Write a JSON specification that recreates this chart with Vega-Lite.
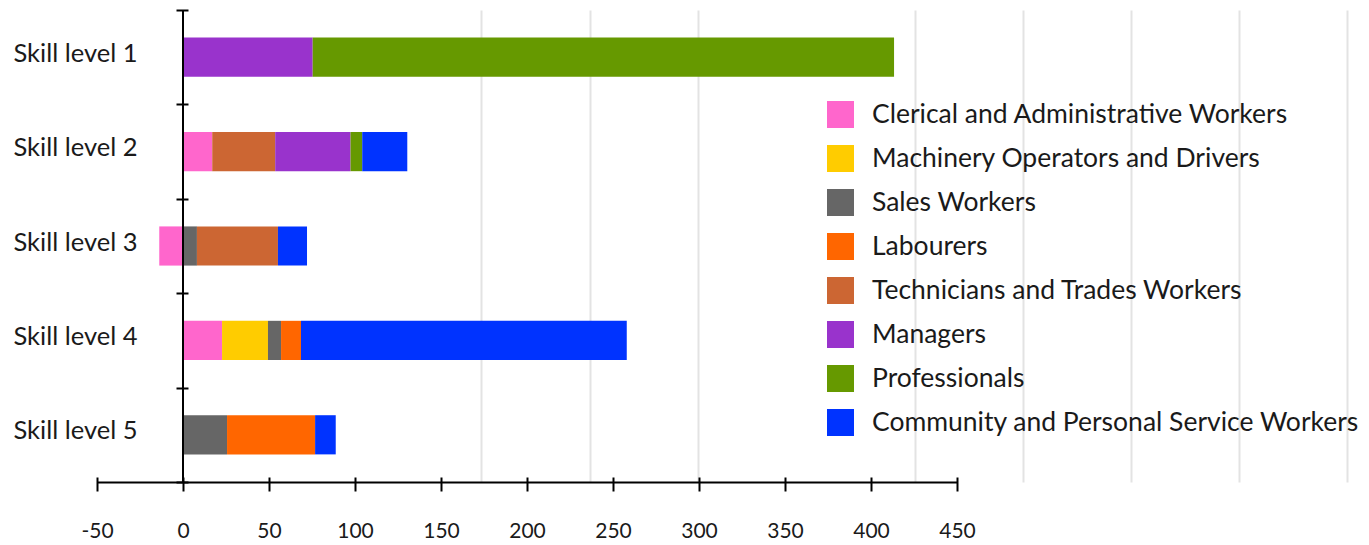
{
  "$schema": "https://vega.github.io/schema/vega-lite/v6.json",
  "width": 1272,
  "height": 472,
  "autosize": {"type": "none"},
  "padding": {"left": 97, "top": 10, "right": 0, "bottom": 63},
  "config": {"font": "Lato", "view": {"stroke": null}},
  "data": {
    "values": [
      {"level": "Skill level 1", "occupation": "Managers", "value": 75.4, "k": 5},
      {"level": "Skill level 1", "occupation": "Professionals", "value": 338, "k": 6},
      {"level": "Skill level 2", "occupation": "Clerical and Administrative Workers", "value": 17, "k": 0},
      {"level": "Skill level 2", "occupation": "Technicians and Trades Workers", "value": 36.6, "k": 4},
      {"level": "Skill level 2", "occupation": "Managers", "value": 43.8, "k": 5},
      {"level": "Skill level 2", "occupation": "Professionals", "value": 6.8, "k": 6},
      {"level": "Skill level 2", "occupation": "Community and Personal Service Workers", "value": 26.2, "k": 7},
      {"level": "Skill level 3", "occupation": "Clerical and Administrative Workers", "value": -13.8, "k": 0},
      {"level": "Skill level 3", "occupation": "Sales Workers", "value": 8.1, "k": 2},
      {"level": "Skill level 3", "occupation": "Technicians and Trades Workers", "value": 47.1, "k": 4},
      {"level": "Skill level 3", "occupation": "Community and Personal Service Workers", "value": 16.9, "k": 7},
      {"level": "Skill level 4", "occupation": "Clerical and Administrative Workers", "value": 22.7, "k": 0},
      {"level": "Skill level 4", "occupation": "Machinery Operators and Drivers", "value": 26.7, "k": 1},
      {"level": "Skill level 4", "occupation": "Sales Workers", "value": 7.6, "k": 2},
      {"level": "Skill level 4", "occupation": "Labourers", "value": 11.6, "k": 3},
      {"level": "Skill level 4", "occupation": "Community and Personal Service Workers", "value": 189.4, "k": 7},
      {"level": "Skill level 5", "occupation": "Sales Workers", "value": 25.6, "k": 2},
      {"level": "Skill level 5", "occupation": "Labourers", "value": 51.2, "k": 3},
      {"level": "Skill level 5", "occupation": "Community and Personal Service Workers", "value": 12.0, "k": 7}
    ]
  },
  "resolve": {"scale": {"x": "independent"}, "axis": {"x": "independent"}},
  "layer": [
    {
      "data": {"values": [{}]},
      "mark": {"type": "rule", "color": "black", "strokeWidth": 2},
      "encoding": {
        "x": {
          "datum": 0,
          "type": "quantitative",
          "scale": {"domain": [-50, 689.53], "range": [0, 1272], "nice": false, "zero": false},
          "axis": {
            "orient": "bottom", "title": null, "domain": false, "ticks": false, "labels": false,
            "grid": true, "gridColor": "#e3e3e3", "gridWidth": 2,
            "values": [173.26, 236.34, 299.42, 425.29, 488.2, 550.87, 613.95, 676.74]
          }
        }
      }
    },
    {
      "mark": {"type": "bar", "height": {"band": 0.415}},
      "encoding": {
        "y": {
          "field": "level",
          "type": "nominal",
          "scale": {"paddingInner": 0, "paddingOuter": 0},
          "axis": {
            "title": null, "orient": "left", "offset": -91, "domain": false,
            "tickBand": "extent", "tickSize": 12, "tickWidth": 2, "tickColor": "black",
            "labelPadding": 39, "labelOffset": -4, "labelFontSize": 25.5, "labelColor": "#1a1a1a", "labelFont": "Lato"
          }
        },
        "x": {
          "field": "value",
          "type": "quantitative",
          "stack": "zero",
          "scale": {"domain": [-50, 450], "range": [0, 860], "nice": false, "zero": false},
          "axis": {
            "orient": "bottom", "title": null, "offset": -5, "domain": false, "grid": false,
            "values": [-50, 0, 50, 100, 150, 200, 250, 300, 350, 400, 450],
            "labelExpr": "'' + datum.value",
            "tickSize": 14, "tickWidth": 2, "tickColor": "black",
            "labelFontSize": 21, "labelPadding": 29, "labelColor": "#1a1a1a",
            "labelFlush": false, "labelOverlap": false
          }
        },
        "color": {
          "field": "occupation",
          "type": "nominal",
          "scale": {
            "domain": [
              "Clerical and Administrative Workers",
              "Machinery Operators and Drivers",
              "Sales Workers",
              "Labourers",
              "Technicians and Trades Workers",
              "Managers",
              "Professionals",
              "Community and Personal Service Workers"
            ],
            "range": ["#FF66CC", "#FFCC00", "#666666", "#FF6600", "#CC6633", "#9933CC", "#669900", "#0033FF"]
          },
          "legend": {
            "title": null, "orient": "none", "legendX": 730, "legendY": 91,
            "symbolType": "square", "symbolSize": 729, "symbolStrokeWidth": 0, "symbolOpacity": 1,
            "labelFontSize": 26.5, "labelOffset": 18, "rowPadding": 17, "labelLimit": 700,
            "padding": 0, "labelColor": "#1a1a1a"
          }
        },
        "order": {"field": "k", "type": "quantitative"}
      }
    },
    {
      "data": {"values": [{}]},
      "mark": {"type": "rule", "color": "black", "strokeWidth": 2},
      "encoding": {
        "x": {
          "datum": 0,
          "type": "quantitative",
          "scale": {"domain": [-50, 450], "range": [0, 860], "nice": false, "zero": false},
          "axis": {
            "orient": "bottom", "title": null, "domain": true, "domainColor": "black", "domainWidth": 2,
            "ticks": false, "labels": false, "grid": false
          }
        }
      }
    }
  ]
}
